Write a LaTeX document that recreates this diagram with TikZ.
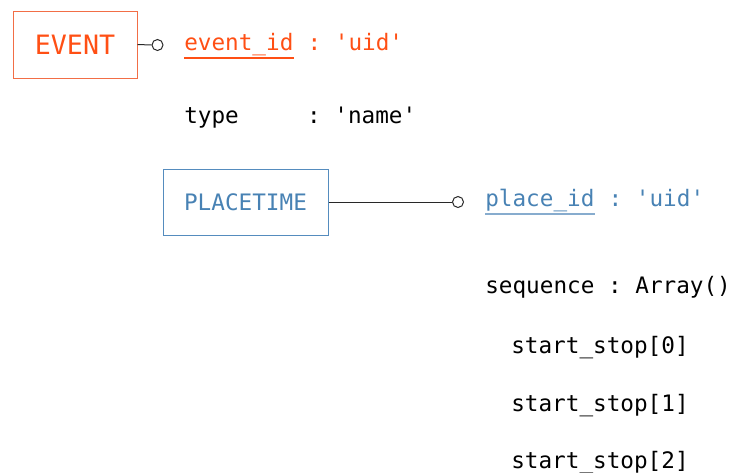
\documentclass[tikz,border=0pt]{standalone}
\usepackage{fontspec}
\setmonofont{DejaVu Sans Mono}
\usepackage{tikz}
\usetikzlibrary{positioning, calc}
\definecolor{EventOrange}{RGB}{255, 79, 20}
\definecolor{EventEdge}{RGB}{242, 110, 70}
\definecolor{PlaceBlue}{RGB}{72, 130, 180}
\definecolor{PlaceEdge}{RGB}{85, 140, 190}
\definecolor{PlaceUnder}{RGB}{135, 172, 206}
\definecolor{LinkGray}{RGB}{40, 40, 40}

\begin{document}
\begin{tikzpicture}[
    x=0.75pt, y=-0.75pt,
    entity/.style={rectangle, draw, fill=white, inner sep=0pt, line width=0.75pt, font=\ttfamily\fontsize{17}{20}\selectfont},
    field/.style={anchor=base west, inner sep=0pt, font=\ttfamily\fontsize{17}{20}\selectfont},
    link/.style={draw=LinkGray, line width=0.75pt},
    keyline/.style={line width=1.1pt},
    port/.style={circle, draw=LinkGray, fill=white, inner sep=0pt, minimum size=8.25pt, line width=0.75pt}
]
    \useasboundingbox (0,0) rectangle (731,472);

    % Event
    \node[entity, draw=EventEdge, text=EventOrange, minimum width=93pt, minimum height=50.25pt, font=\ttfamily\fontsize{20}{24}\selectfont] (event) at (75,44.5) {EVENT};
    \node[port] (evport) at (157.5,45) {};
    \node[field, text=EventOrange] (evkey) at (184,50.5) {event\_id};
    \node[field, text=EventOrange] (evval) at (evkey.base east) {\ :\ 'uid'};
    \node[field] (evtype) at (184,123) {type\ \ \ \ \ :\ 'name'};

    % Placetime
    \node[entity, draw=PlaceEdge, text=PlaceBlue, minimum width=123.75pt, minimum height=49.5pt] (place) at (245.5,202) {PLACETIME};
    \node[port] (plport) at (458,202) {};
    \node[field, text=PlaceBlue] (plkey) at (485,206.5) {place\_id};
    \node[field, text=PlaceBlue] (plval) at (plkey.base east) {\ :\ 'uid'};
    \node[field] (seq) at (485,293) {sequence\ :\ Array()};
    \node[field] (ss0) at (511,353) {start\_stop[0]};
    \node[field] (ss1) at (511,411) {start\_stop[1]};
    \node[field] (ss2) at (511,468.5) {start\_stop[2]};

    % Links
    \draw[link] (event.east) -- (evport.west);
    \draw[link] (place.east) -- (plport.west);
    \draw[keyline, EventOrange] ($(evkey.base west)+(0,7.5)$) -- ($(evkey.base east)+(0,7.5)$);
    \draw[keyline, PlaceUnder] ($(plkey.base west)+(0,7.5)$) -- ($(plkey.base east)+(0,7.5)$);
\end{tikzpicture}
\end{document}
